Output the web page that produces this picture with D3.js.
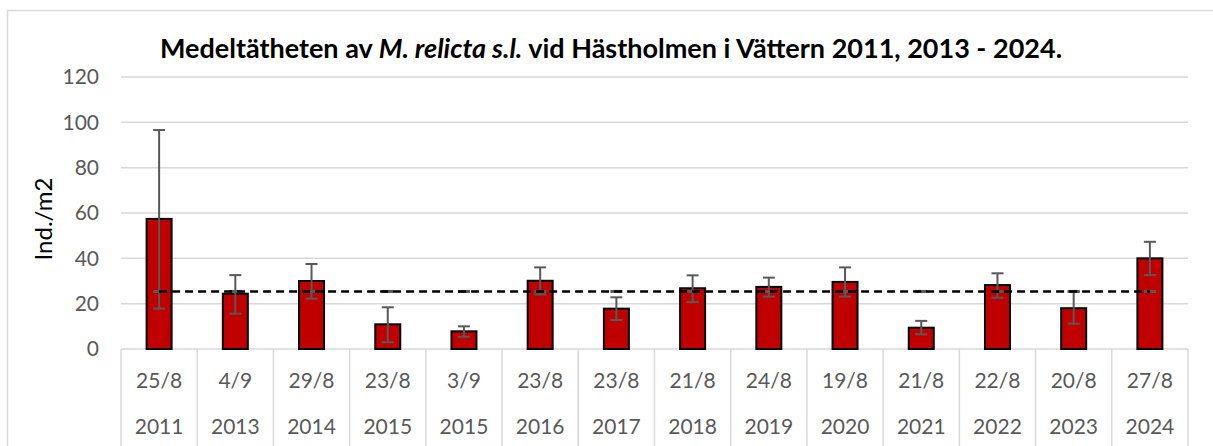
<!DOCTYPE html>
<html>
<head>
<meta charset="utf-8">
<script src="https://cdn.jsdelivr.net/npm/d3@7"></script>
<style>
  body { margin: 0; background: #fff; }
  text { font-family: Lato, "Open Sans", sans-serif; }
</style>
</head>
<body>
<div class="visHolder"></div>
<script>
const width = 1213;
const height = 446;

// data
const dates = ['25/8','4/9','29/8','23/8','3/9','23/8','23/8','21/8','24/8','19/8','21/8','22/8','20/8','27/8'];
const years = ['2011','2013','2014','2015','2015','2016','2017','2018','2019','2020','2021','2022','2023','2024'];
const density = [57.4, 24.4, 30.0, 10.9, 7.8, 30.1, 17.8, 26.8, 27.4, 29.6, 9.4, 28.2, 18.0, 40.0];
const errLow  = [17.8, 15.6, 22.2, 3.0, 5.4, 24.1, 12.8, 20.7, 23.1, 23.1, 6.5, 22.6, 11.2, 32.6];
const errHigh = [96.6, 32.6, 37.5, 18.4, 10.0, 36.0, 22.8, 32.5, 31.5, 36.0, 12.4, 33.4, 25.3, 47.3];
const meanLine = [25.4, 25.4, 25.4, 25.4, 25.4, 25.4, 25.4, 25.4, 25.4, 25.4, 25.4, 25.4, 25.4, 25.4];
const yTicks = [0, 20, 40, 60, 80, 100, 120];

const plotLeft = 121, plotRight = 1188, plotTop = 77, plotBottom = 349;
const idx = d3.range(dates.length);

const svg = d3.select('.visHolder')
  .append('svg')
  .attr('width', width)
  .attr('height', height);

// outer chart border
svg.append('rect')
  .attr('x', 7.5).attr('y', 10.5)
  .attr('width', width).attr('height', height)
  .attr('fill', 'none')
  .attr('stroke', '#d9d9d9')
  .attr('stroke-width', 1.5);

const xScale = d3.scaleBand()
  .domain(idx)
  .range([plotLeft, plotRight]);

const yScale = d3.scaleLinear()
  .domain([0, 120])
  .range([plotBottom, plotTop]);

// gridlines
svg.append('g')
  .selectAll('line')
  .data(yTicks.filter(t => t > 0))
  .enter()
  .append('line')
  .attr('x1', plotLeft).attr('x2', plotRight)
  .attr('y1', d => yScale(d)).attr('y2', d => yScale(d))
  .attr('stroke', '#d9d9d9')
  .attr('stroke-width', 1.5);

// y axis labels
const yAxis = d3.axisLeft(yScale).tickValues(yTicks).tickSize(0).tickPadding(22);
const gy = svg.append('g')
  .attr('transform', `translate(${plotLeft},0)`)
  .call(yAxis);
gy.select('.domain').remove();
gy.selectAll('text')
  .style('font-size', '21px')
  .attr('fill', '#595959');

svg.append('text')
  .attr('transform', 'rotate(-90)')
  .attr('x', -219)
  .attr('y', 52)
  .attr('text-anchor', 'middle')
  .style('font-size', '24px')
  .attr('fill', '#000')
  .text('Ind./m2');

// category table under the plot
svg.append('line')
  .attr('x1', plotLeft).attr('x2', plotRight)
  .attr('y1', plotBottom).attr('y2', plotBottom)
  .attr('stroke', '#d9d9d9').attr('stroke-width', 1.5);

const bounds = idx.map(i => xScale(i)).concat([plotRight]);
svg.append('g')
  .selectAll('line')
  .data(bounds)
  .enter()
  .append('line')
  .attr('x1', d => d).attr('x2', d => d)
  .attr('y1', plotBottom).attr('y2', height)
  .attr('stroke', '#d9d9d9').attr('stroke-width', 1.5);

const cx = i => xScale(i) + xScale.bandwidth() / 2;

svg.append('g')
  .selectAll('text')
  .data(dates)
  .enter()
  .append('text')
  .attr('x', (d, i) => cx(i))
  .attr('y', 388)
  .attr('text-anchor', 'middle')
  .style('font-size', '21px')
  .attr('fill', '#595959')
  .text(d => d);

svg.append('g')
  .selectAll('text')
  .data(years)
  .enter()
  .append('text')
  .attr('x', (d, i) => cx(i))
  .attr('y', 434)
  .attr('text-anchor', 'middle')
  .style('font-size', '21px')
  .attr('fill', '#595959')
  .text(d => d);

// bars
const barW = 25;
svg.append('g')
  .selectAll('rect')
  .data(density)
  .enter()
  .append('rect')
  .attr('x', (d, i) => cx(i) - barW / 2)
  .attr('y', d => yScale(d))
  .attr('width', barW)
  .attr('height', d => plotBottom - yScale(d))
  .attr('fill', '#c00000')
  .attr('stroke', '#000')
  .attr('stroke-width', 2);

// error bars
const errG = svg.append('g')
  .attr('stroke', '#595959')
  .attr('stroke-width', 2);
idx.forEach(i => {
  const x = cx(i);
  errG.append('line')
    .attr('x1', x).attr('x2', x)
    .attr('y1', yScale(errHigh[i])).attr('y2', yScale(errLow[i]));
  [errHigh[i], errLow[i]].forEach(v => {
    errG.append('line')
      .attr('x1', x - 6).attr('x2', x + 6)
      .attr('y1', yScale(v)).attr('y2', yScale(v));
  });
});

// mean line with its grey caps
svg.append('g')
  .selectAll('line')
  .data(meanLine)
  .enter()
  .append('line')
  .attr('x1', (d, i) => cx(i) - 6).attr('x2', (d, i) => cx(i) + 6)
  .attr('y1', d => yScale(d)).attr('y2', d => yScale(d))
  .attr('stroke', '#595959').attr('stroke-width', 3);

const line = d3.line()
  .x((d, i) => cx(i))
  .y(d => yScale(d));

svg.append('path')
  .datum(meanLine)
  .attr('d', line)
  .attr('fill', 'none')
  .attr('stroke', '#000')
  .attr('stroke-width', 2.5)
  .attr('stroke-dasharray', '8,5');

// title
const title = svg.append('text')
  .attr('x', 611)
  .attr('y', 58)
  .attr('text-anchor', 'middle')
  .style('font-size', '27px')
  .style('font-weight', 'bold')
  .attr('fill', '#000');
title.append('tspan').text('Medeltätheten av ');
title.append('tspan').style('font-style', 'italic').text('M. relicta s.l.');
title.append('tspan').text(' vid Hästholmen i Vättern 2011, 2013 - 2024.');
</script>
</body>
</html>
